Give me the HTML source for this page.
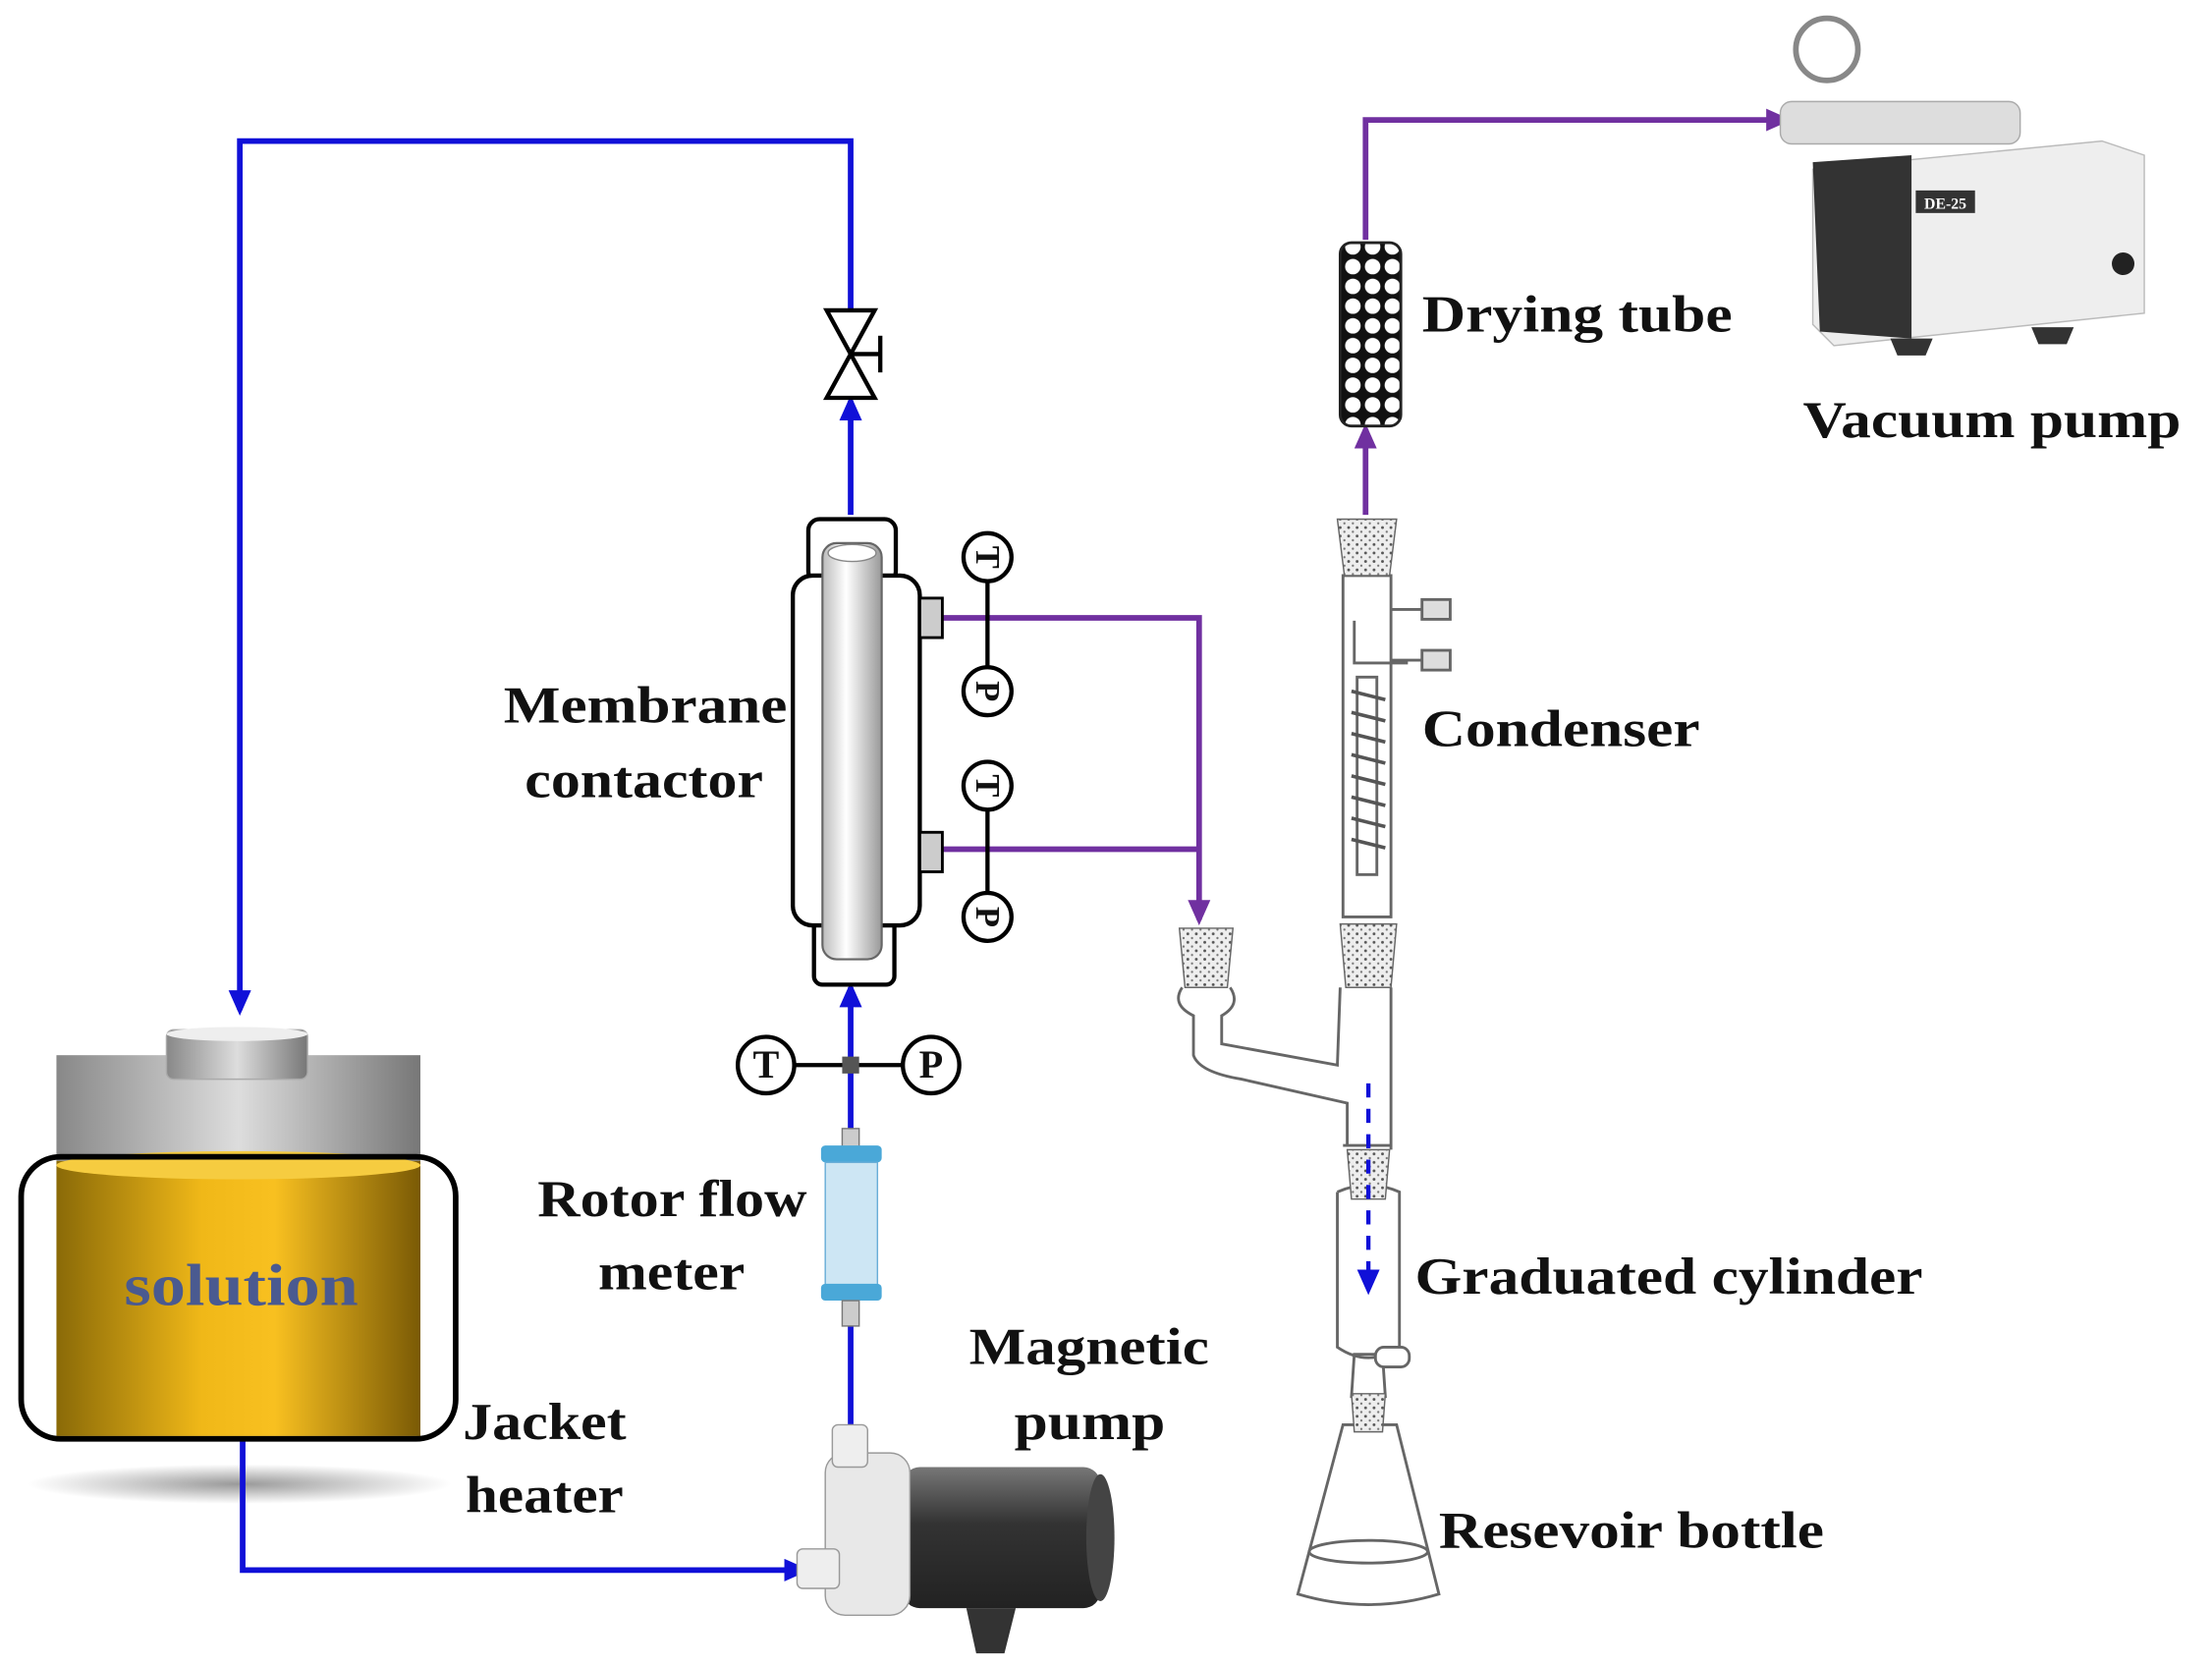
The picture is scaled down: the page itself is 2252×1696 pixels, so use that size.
<!DOCTYPE html>
<html><head><meta charset="utf-8"><style>
html,body{margin:0;padding:0;background:#fff}
svg{display:block}
text{font-family:"Liberation Serif",serif;font-weight:bold;fill:#111}
</style></head><body>
<svg width="2252" height="1696" viewBox="0 0 1568 1181" preserveAspectRatio="none" xmlns="http://www.w3.org/2000/svg">
<defs>
<marker id="ab" markerWidth="18" markerHeight="16" refX="14" refY="8" orient="auto" markerUnits="userSpaceOnUse" viewBox="0 0 18 16"><path d="M0,0 L18,8 L0,16 z" fill="#1010d8"/></marker>
<marker id="ap" markerWidth="18" markerHeight="16" refX="14" refY="8" orient="auto" markerUnits="userSpaceOnUse" viewBox="0 0 18 16"><path d="M0,0 L18,8 L0,16 z" fill="#7030a0"/></marker>
<linearGradient id="yel" x1="0" x2="1"><stop offset="0" stop-color="#8a6a08"/><stop offset="0.4" stop-color="#f0b818"/><stop offset="0.6" stop-color="#f8c020"/><stop offset="1" stop-color="#7a5a05"/></linearGradient>
<linearGradient id="gry" x1="0" x2="1"><stop offset="0" stop-color="#888"/><stop offset="0.5" stop-color="#ddd"/><stop offset="1" stop-color="#777"/></linearGradient>
<linearGradient id="tube" x1="0" x2="1"><stop offset="0" stop-color="#bbb"/><stop offset="0.4" stop-color="#fff"/><stop offset="1" stop-color="#999"/></linearGradient>
<linearGradient id="pump" x1="0" y1="0" x2="0" y2="1"><stop offset="0" stop-color="#777"/><stop offset="0.4" stop-color="#333"/><stop offset="1" stop-color="#222"/></linearGradient>
<radialGradient id="sh"><stop offset="0" stop-color="#999"/><stop offset="1" stop-color="#fff"/></radialGradient>
<pattern id="dots" width="14" height="14" patternUnits="userSpaceOnUse"><rect width="14" height="14" fill="#111"/><circle cx="7" cy="7" r="5.5" fill="#fff"/></pattern>
<pattern id="frit" width="6" height="6" patternUnits="userSpaceOnUse"><rect width="6" height="6" fill="#eee"/><circle cx="2" cy="2" r="1" fill="#555"/><circle cx="5" cy="5" r="0.8" fill="#777"/></pattern>
</defs>

<!-- tank shadow first -->
<ellipse cx="170" cy="1052" rx="150" ry="14" fill="url(#sh)"/>

<!-- blue lines -->
<g stroke="#1010d8" stroke-width="4" fill="none">
<polyline points="603,220 603,100 170,100 170,716" marker-end="url(#ab)"/>
<line x1="603" y1="365" x2="603" y2="284" marker-end="url(#ab)"/>
<line x1="603" y1="810" x2="603" y2="700" marker-end="url(#ab)"/>
<line x1="603" y1="940" x2="603" y2="1012"/>
<polyline points="172,1020 172,1113 570,1113" marker-end="url(#ab)"/>
</g>
<!-- valve -->
<g stroke="#000" stroke-width="3" fill="#fff">
<path d="M586,220 L620,220 L586,282 L620,282 Z"/>
<line x1="603" y1="251" x2="624" y2="251"/><line x1="624" y1="238" x2="624" y2="264"/>
</g>

<!-- purple lines -->
<g stroke="#7030a0" stroke-width="4" fill="none">
<polyline points="668,438 850,438 850,652" marker-end="url(#ap)"/>
<line x1="668" y1="602" x2="850" y2="602"/>
<polyline points="968,170 968,85 1266,85" marker-end="url(#ap)"/>
<line x1="968" y1="365" x2="968" y2="304" marker-end="url(#ap)"/>
</g>

<!-- membrane contactor -->
<rect x="573" y="368" width="62" height="45" rx="8" fill="#fff" stroke="#000" stroke-width="3"/>
<rect x="577" y="650" width="57" height="48" rx="6" fill="#fff" stroke="#000" stroke-width="3"/>
<rect x="562" y="408" width="90" height="248" rx="14" fill="#fff" stroke="#000" stroke-width="3"/>
<rect x="583" y="385" width="42" height="295" rx="10" fill="url(#tube)" stroke="#666" stroke-width="1.5"/>
<ellipse cx="604" cy="392" rx="17" ry="6" fill="#fff" stroke="#888"/>
<rect x="652" y="424" width="16" height="28" fill="#ccc" stroke="#000" stroke-width="2"/>
<rect x="652" y="590" width="16" height="28" fill="#ccc" stroke="#000" stroke-width="2"/>
<!-- T/P -->
<g stroke="#000" stroke-width="3" fill="#fff">
<line x1="700" y1="412" x2="700" y2="473"/><line x1="700" y1="574" x2="700" y2="633"/>
<line x1="560" y1="755" x2="643" y2="755"/>
<circle cx="700" cy="395" r="17"/><circle cx="700" cy="490" r="17"/>
<circle cx="700" cy="557" r="17"/><circle cx="700" cy="650" r="17"/>
<circle cx="543" cy="755" r="20"/><circle cx="660" cy="755" r="20"/>
</g>
<g font-size="24" text-anchor="middle" style="font-weight:normal">
<text x="700" y="395" transform="rotate(90 700 395)" dy="8">T</text>
<text x="700" y="490" transform="rotate(90 700 490)" dy="8">P</text>
<text x="700" y="557" transform="rotate(90 700 557)" dy="8">T</text>
<text x="700" y="650" transform="rotate(90 700 650)" dy="8">P</text>
<text x="543" y="764" font-size="28">T</text>
<text x="660" y="764" font-size="28">P</text>
</g>
<rect x="597" y="749" width="12" height="12" fill="#555"/>

<!-- rotor flow meter -->
<rect x="597" y="800" width="12" height="14" fill="#ccc" stroke="#777"/>
<rect x="582" y="812" width="43" height="12" rx="3" fill="#4aa8d8"/>
<rect x="585" y="824" width="37" height="88" fill="#cde6f4" stroke="#6aaed8"/>
<rect x="582" y="910" width="43" height="12" rx="3" fill="#4aa8d8"/>
<rect x="597" y="922" width="12" height="18" fill="#ccc" stroke="#777"/>

<!-- tank -->
<rect x="40" y="748" width="258" height="75" fill="url(#gry)"/>
<rect x="118" y="730" width="100" height="35" rx="5" fill="url(#gry)" stroke="#aaa"/>
<ellipse cx="168" cy="733" rx="50" ry="5" fill="#eee"/>
<rect x="40" y="823" width="258" height="195" fill="url(#yel)"/>
<ellipse cx="169" cy="826" rx="129" ry="10" fill="#f6cc40"/>
<rect x="15" y="820" width="308" height="200" rx="28" fill="none" stroke="#000" stroke-width="4"/>
<text x="88" y="925" font-size="42" textLength="166" lengthAdjust="spacingAndGlyphs" style="fill:#4a5a90">solution</text>

<!-- magnetic pump -->
<rect x="640" y="1040" width="140" height="100" rx="12" fill="url(#pump)"/>
<ellipse cx="780" cy="1090" rx="10" ry="45" fill="#444"/>
<path d="M685,1140 L720,1140 L712,1172 L692,1172 Z" fill="#333"/>
<rect x="585" y="1030" width="60" height="115" rx="14" fill="#e8e8e8" stroke="#999"/>
<rect x="590" y="1010" width="25" height="30" rx="4" fill="#eee" stroke="#999"/>
<rect x="565" y="1098" width="30" height="28" rx="4" fill="#eee" stroke="#999"/>

<!-- drying tube -->
<rect x="950" y="172" width="43" height="130" rx="8" fill="url(#dots)" stroke="#222" stroke-width="2"/>

<!-- condenser -->
<g stroke="#666" stroke-width="2" fill="#fff">
<path d="M952,408 L952,650 L986,650 L986,408 Z"/>
<path d="M960,440 L960,470 L998,470" fill="none"/>
<path d="M986,432 L1010,432 M986,468 L1010,468" />
<rect x="1008" y="425" width="20" height="14" fill="#ddd"/>
<rect x="1008" y="461" width="20" height="14" fill="#ddd"/>
<rect x="962" y="480" width="14" height="140" fill="none"/>
</g>
<g stroke="#555" stroke-width="2.5">
<line x1="958" y1="490" x2="982" y2="496"/><line x1="958" y1="505" x2="982" y2="511"/>
<line x1="958" y1="520" x2="982" y2="526"/><line x1="958" y1="535" x2="982" y2="541"/>
<line x1="958" y1="550" x2="982" y2="556"/><line x1="958" y1="565" x2="982" y2="571"/>
<line x1="958" y1="580" x2="982" y2="586"/><line x1="958" y1="595" x2="982" y2="601"/>
</g>
<path d="M948,368 L990,368 L985,408 L953,408 Z" fill="url(#frit)" stroke="#666"/>
<!-- adapter -->
<path d="M950,655 L990,655 L986,700 L954,700 Z" fill="url(#frit)" stroke="#666"/>
<path d="M836,658 L874,658 L870,700 L840,700 Z" fill="url(#frit)" stroke="#666"/>
<g stroke="#666" stroke-width="2" fill="none">
<path d="M838,700 Q830,712 846,720 L846,748 Q850,760 880,765 L955,782 L955,812 M872,700 Q880,712 866,720 L866,740 L948,755 L950,700"/>
<path d="M986,700 L986,815 M952,812 L986,812"/>
<path d="M948,845 L948,955 Q970,970 992,955 L992,845 Q970,835 948,845"/>
<path d="M960,960 L980,960 L982,990 L958,990 Z"/>
<path d="M952,1010 L990,1010 L1020,1130 Q970,1145 920,1130 Z"/>
<ellipse cx="970" cy="1100" rx="42" ry="8"/>
</g>
<path d="M955,815 L985,815 L982,850 L958,850 Z" fill="url(#frit)" stroke="#666"/>
<path d="M958,988 L982,988 L980,1015 L960,1015 Z" fill="url(#frit)" stroke="#666"/>
<rect x="975" y="955" width="24" height="14" rx="6" fill="#fff" stroke="#666" stroke-width="2"/>
<line x1="970" y1="768" x2="970" y2="914" stroke="#1010d8" stroke-width="3" stroke-dasharray="10,8" marker-end="url(#ab)"/>

<!-- vacuum pump -->
<path d="M1285,120 L1490,100 L1520,110 L1520,222 L1300,245 L1285,230 Z" fill="#eee" stroke="#bbb"/>
<path d="M1285,115 L1355,110 L1355,240 L1290,235 Z" fill="#333"/>
<rect x="1358" y="135" width="42" height="16" fill="#333"/>
<text x="1379" y="148" font-size="11" text-anchor="middle" style="fill:#fff">DE-25</text>
<circle cx="1505" cy="187" r="8" fill="#222"/>
<rect x="1262" y="72" width="170" height="30" rx="8" fill="#ddd" stroke="#aaa"/>
<circle cx="1295" cy="35" r="22" fill="#fff" stroke="#888" stroke-width="4"/>
<path d="M1340,240 L1370,240 L1365,252 L1345,252 Z M1440,232 L1470,232 L1465,244 L1445,244 Z" fill="#333"/>

<!-- labels -->
<g font-size="37" lengthAdjust="spacingAndGlyphs">
<text x="357" y="512" textLength="201" lengthAdjust="spacingAndGlyphs">Membrane</text>
<text x="372" y="565" textLength="169" lengthAdjust="spacingAndGlyphs">contactor</text>
<text x="381" y="862" textLength="191" lengthAdjust="spacingAndGlyphs">Rotor flow</text>
<text x="424" y="914" textLength="104" lengthAdjust="spacingAndGlyphs">meter</text>
<text x="687" y="967" textLength="170" lengthAdjust="spacingAndGlyphs">Magnetic</text>
<text x="719" y="1020" textLength="107" lengthAdjust="spacingAndGlyphs">pump</text>
<text x="328" y="1020" textLength="116" lengthAdjust="spacingAndGlyphs">Jacket</text>
<text x="330" y="1072" textLength="112" lengthAdjust="spacingAndGlyphs">heater</text>
<text x="1008" y="235" textLength="220" lengthAdjust="spacingAndGlyphs">Drying tube</text>
<text x="1278" y="310" textLength="268" lengthAdjust="spacingAndGlyphs">Vacuum pump</text>
<text x="1008" y="529" textLength="197" lengthAdjust="spacingAndGlyphs">Condenser</text>
<text x="1003" y="917" textLength="360" lengthAdjust="spacingAndGlyphs">Graduated cylinder</text>
<text x="1020" y="1097" textLength="273" lengthAdjust="spacingAndGlyphs">Resevoir bottle</text>
</g>
</svg>
</body></html>
